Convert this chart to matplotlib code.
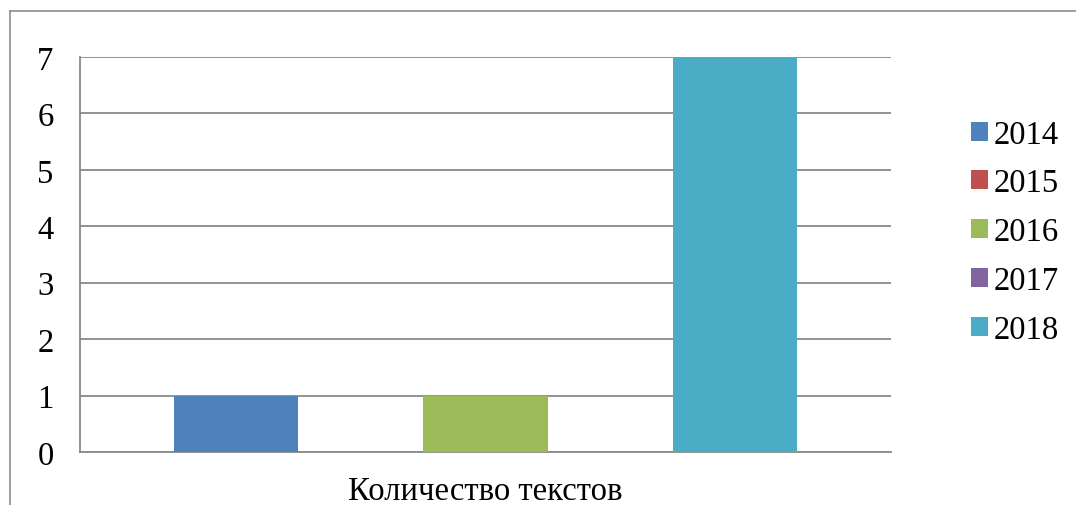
import matplotlib
matplotlib.use("Agg")
import matplotlib.pyplot as plt
from matplotlib.lines import Line2D
from matplotlib.patches import Patch
import numpy as np

category = "Количество текстов"
years = ["2014", "2015", "2016", "2017", "2018"]
counts = [1, 0, 1, 0, 7]
colors = ["#4F81BD", "#C0504D", "#9BBB59", "#8064A2", "#4BACC6"]

plt.rcParams["font.family"] = ["Liberation Serif", "DejaVu Serif"]
grid_color = "#898989"
fs = 23.5

fig = plt.figure(figsize=(10.76, 5.06), dpi=100)
ax = fig.add_axes([80 / 1076, 1 - 453 / 506, 811 / 1076, 395 / 506])

# clustered bars, gap width 150% of a bar
width = 1 / (len(years) + 1.5)
for i, (yr, val, c) in enumerate(zip(years, counts, colors)):
    ax.bar((i - 2) * width, val, width=width, color=c, label=yr, zorder=3)

ax.set_xlim(-0.5, 0.5)
ax.set_ylim(0, 7)
ax.set_yticks(range(0, 8))
ax.yaxis.grid(True, color=grid_color, linewidth=1.3, zorder=0)
ax.set_xticks([0], [category])
ax.tick_params(axis="both", length=0, labelsize=fs)
ax.tick_params(axis="y", pad=19)
ax.tick_params(axis="x", pad=17)

for s in ["top", "right"]:
    ax.spines[s].set_visible(False)
for s in ["left", "bottom"]:
    ax.spines[s].set_color(grid_color)
    ax.spines[s].set_linewidth(1.3)

handles = [Patch(facecolor=c, edgecolor="none") for c in colors]
fig.legend(handles, years, loc="center left", bbox_to_anchor=(971 / 1076, 1 - 233 / 506),
           frameon=False, fontsize=fs, handlelength=0.52, handleheight=0.52,
           handletextpad=0.18, labelspacing=0.56, borderpad=0, borderaxespad=0)

# outer chart border (left and top edges visible)
fig.add_artist(Line2D([10 / 1076, 10 / 1076], [0, 1 - 12 / 506], transform=fig.transFigure,
                      color="#8c8c8c", linewidth=1.2))
fig.add_artist(Line2D([10 / 1076, 1], [1 - 12 / 506, 1 - 12 / 506], transform=fig.transFigure,
                      color="#8c8c8c", linewidth=1.2))

fig.savefig("out.png", dpi=100)
